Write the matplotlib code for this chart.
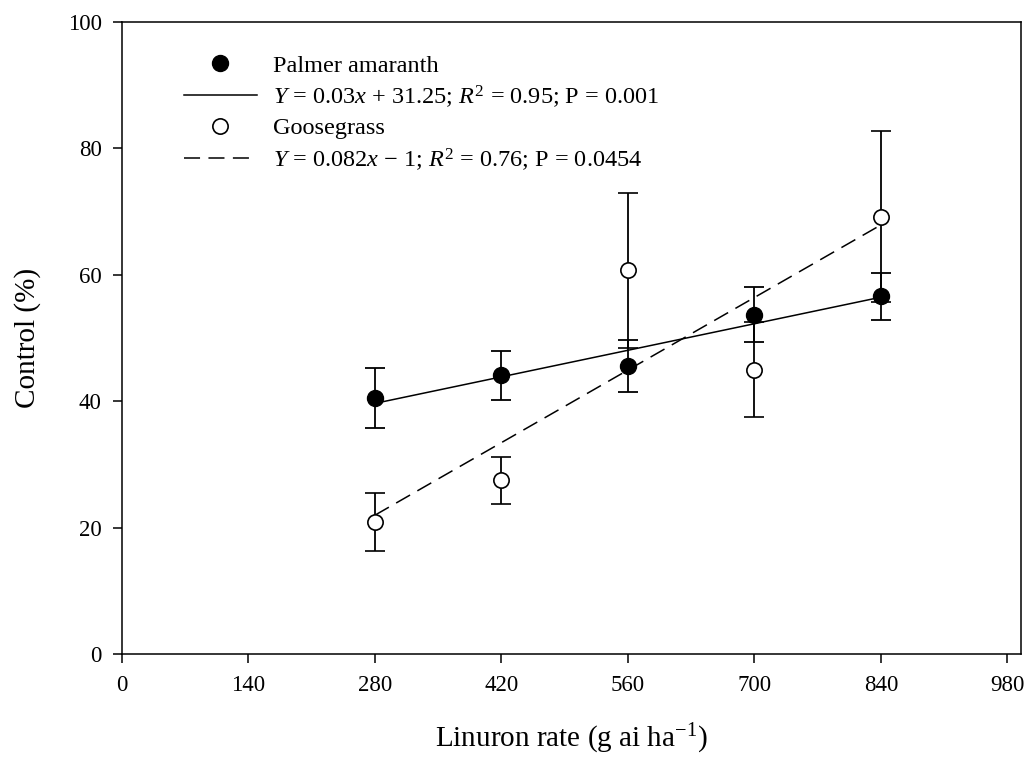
import numpy as np
import matplotlib.pyplot as plt
from matplotlib.lines import Line2D

plt.rcParams['font.family'] = ['Liberation Serif', 'DejaVu Serif']
plt.rcParams['mathtext.fontset'] = 'custom'
plt.rcParams['mathtext.rm'] = 'Liberation Serif'
plt.rcParams['mathtext.it'] = 'Liberation Serif:italic'

# Data
rates = [280, 420, 560, 700, 840]
palmer = [40.5, 44.1, 45.5, 53.7, 56.6]
palmer_err = [4.8, 3.85, 4.1, 4.3, 3.7]
goose = [20.9, 27.5, 60.7, 45.0, 69.2]
goose_err = [4.55, 3.7, 12.3, 7.5, 13.5]

# Regression fits (from the legend)
palmer_fit = (0.03, 31.25)
goose_fit = (0.082, -1)
palmer_label = r'$Y$ = 0.03$x$ + 31.25; $R^2$ = 0.95; P = 0.001'
goose_label = r'$Y$ = 0.082$x$ − 1; $R^2$ = 0.76; P = 0.0454'

dash = (10.5, 5.5)

fig = plt.figure(figsize=(10.26, 7.63), dpi=100)
ax = fig.add_axes([0.1189, 0.1429, 0.8761, 0.8283])

xf = np.array([rates[0], rates[-1]])
ax.plot(xf, palmer_fit[0] * xf + palmer_fit[1], color='black', lw=1.1, zorder=2)
ax.plot(xf, goose_fit[0] * xf + goose_fit[1], color='black', lw=1.1,
        dashes=dash, zorder=2)

ax.errorbar(rates, palmer, yerr=palmer_err, fmt='o', color='black', mfc='black',
            ms=11.5, capsize=7, elinewidth=1.3, capthick=1.3, zorder=3)
ax.errorbar(rates, goose, yerr=goose_err, fmt='o', color='black', mfc='white',
            mec='black', mew=1.2, ms=11, capsize=7, elinewidth=1.3, capthick=1.3, zorder=3)

ax.set_xlim(0, 995)
ax.set_ylim(0, 100)
ax.set_xticks(np.arange(0, 981, 140))
ax.set_yticks(np.arange(0, 101, 20))
ax.tick_params(direction='out', length=6.5, width=1.1, labelsize=16.5,
               top=False, right=False)
ax.tick_params(axis='x', pad=9)
ax.tick_params(axis='y', pad=8)
for s in ax.spines.values():
    s.set_linewidth(1.1)

ax.set_xlabel('Linuron rate (g ai ha$^{−1}$)', fontsize=21, labelpad=18)
ax.set_ylabel('Control (%)', fontsize=21, labelpad=19.5)

handles = [
    Line2D([], [], ls='none', marker='o', color='black', ms=11.5),
    Line2D([], [], color='black', lw=1.1),
    Line2D([], [], ls='none', marker='o', mfc='white', mec='black', mew=1.2, ms=11),
    Line2D([], [], color='black', lw=1.1, dashes=dash),
]
labels = ['Palmer amaranth', palmer_label, 'Goosegrass', goose_label]
ax.legend(handles, labels, loc='upper left', bbox_to_anchor=(0.069, 0.9485),
          frameon=False, fontsize=17.5, handlelength=3.0, handletextpad=0.66,
          labelspacing=0.28, borderpad=0, borderaxespad=0)

fig.savefig('out.png', dpi=100)
